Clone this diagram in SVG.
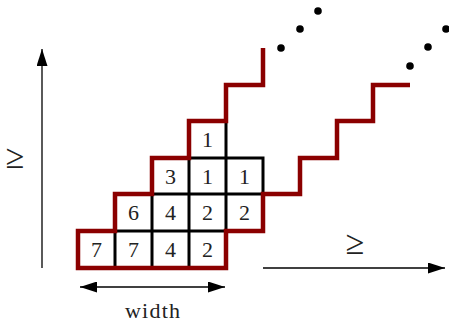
<svg xmlns="http://www.w3.org/2000/svg" width="449" height="324" viewBox="0 0 449 324">
<style>
.grid{stroke:#000;stroke-width:3;fill:none;stroke-linecap:square}
.red{stroke:#8b0000;stroke-width:4.5;fill:none;stroke-linejoin:miter;stroke-linecap:butt}
.ax{stroke:#000;stroke-width:1.3;fill:none}
.num{font-family:"Liberation Serif",serif;font-size:22px;text-anchor:middle;fill:#222}
.lbl{font-family:"Liberation Serif",serif;font-size:22px;text-anchor:middle;fill:#222}
.geq{font-family:"Liberation Serif",serif;font-size:34px;text-anchor:middle;fill:#222}
.dot{fill:#000}
</style>
<defs>
<marker id="ah" markerWidth="18" markerHeight="11" refX="17" refY="5.5" orient="auto-start-reverse" markerUnits="userSpaceOnUse">
<path d="M0,0 L17,5.5 L0,11 Z" fill="#000"/>
</marker>
</defs>
<g id="connectors">
<path class="ax" d="M42,268 V49" marker-end="url(#ah)"/>
<path class="ax" d="M263,268 H445" marker-end="url(#ah)"/>
<path class="ax" d="M80,287 H225" marker-start="url(#ah)" marker-end="url(#ah)"/>
</g>
<g id="grid">
<path class="grid" d="M115,231 V268 M152,194 V268 M189,158 V268 M226,121 V231 M263,158 V194 M115,231 H226 M152,194 H263 M189,158 H263"/>
</g>
<g id="staircase">
<path class="red" d="M410,85 H373 V121 H337 V158 H300 V194 H263 V231 H226 V268 H78 V231 H115 V194 H152 V158 H189 V121 H226 V85 H263 V48"/>
</g>
<g id="numbers">
<text class="num" x="207.5" y="147">1</text>
<text class="num" x="170.5" y="184">3</text>
<text class="num" x="207.5" y="184">1</text>
<text class="num" x="244.5" y="184">1</text>
<text class="num" x="133.5" y="220">6</text>
<text class="num" x="170.5" y="220">4</text>
<text class="num" x="207.5" y="220">2</text>
<text class="num" x="244.5" y="220">2</text>
<text class="num" x="96.5" y="257">7</text>
<text class="num" x="133.5" y="257">7</text>
<text class="num" x="170.5" y="257">4</text>
<text class="num" x="207.5" y="257">2</text>
</g>
<g id="dots">
<circle class="dot" cx="281" cy="48" r="3.8"/>
<circle class="dot" cx="300" cy="29" r="3.8"/>
<circle class="dot" cx="318" cy="11" r="3.8"/>
<circle class="dot" cx="410" cy="66" r="3.8"/>
<circle class="dot" cx="428" cy="47" r="3.8"/>
<circle class="dot" cx="446" cy="29" r="3.8"/>
</g>
<g id="labels">
<text class="geq" x="15" y="168">≥</text>
<text class="geq" x="355" y="254">≥</text>
<text class="lbl" x="152.5" y="318" textLength="55">width</text>
</g>
</svg>
